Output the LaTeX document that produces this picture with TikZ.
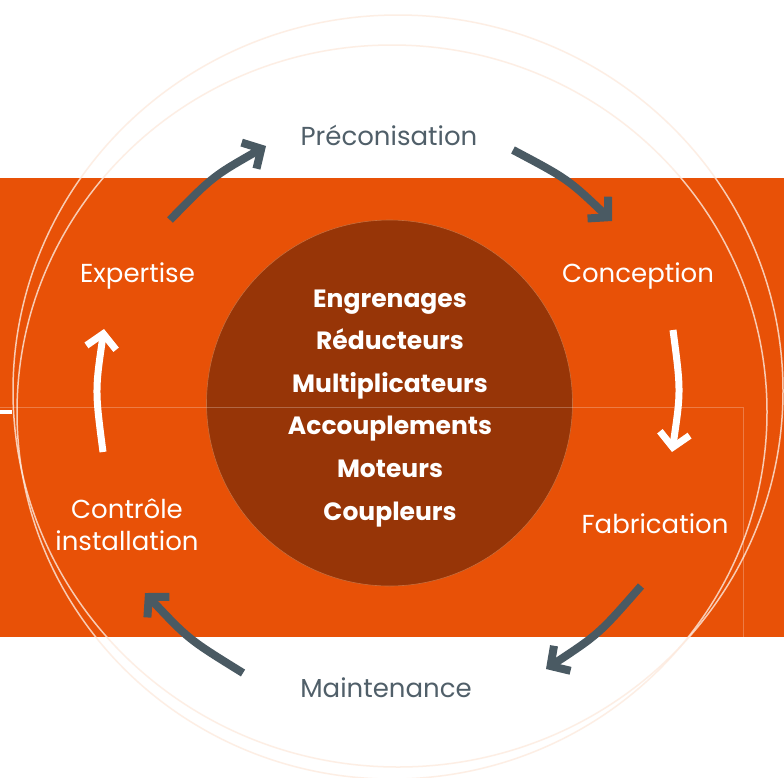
\documentclass[tikz,border=0pt]{standalone}
\usepackage{fontspec}
\setmainfont{Poppins}
\usetikzlibrary{arrows.meta}
\definecolor{bandorange}{HTML}{E85107}
\definecolor{corebrown}{HTML}{973507}
\definecolor{coreedge}{RGB}{200,110,60}
\definecolor{slate}{HTML}{4A5A63}
\definecolor{slatetext}{HTML}{505F69}
\definecolor{ringpeach}{RGB}{253,234,222}
\begin{document}
\begin{tikzpicture}[x=1pt, y=-1pt,
  phase/.style={font=\fontsize{26}{32}\selectfont, anchor=base, inner sep=0pt},
  product/.style={font=\fontsize{25}{30}\selectfont\bfseries, text=white, anchor=base, inner sep=0pt},
  slatearrow/.style={draw=slate, line width=8pt, -{Straight Barb[sharp, length=14pt, width=30pt]}},
  whitearrow/.style={draw=white, line width=7pt, -{Straight Barb[sharp, length=14pt, width=30pt]}},
  ring/.style={draw=ringpeach, opacity=0.8, line width=1.5pt}]
  \useasboundingbox (0,0) rectangle (784,777);
  \fill[white] (0,0) rectangle (784,777);
  \fill[bandorange] (0,178) rectangle (784,637);
  \draw[ring] (398,391) ellipse [x radius=385, y radius=376];
  \draw[ring] (392,412) ellipse [x radius=375, y radius=367];

  \node[circle, fill=corebrown, draw=coreedge, line width=0.6pt, minimum size=366pt, inner sep=0pt] (core) at (389.5,403) {};
  \draw[white, opacity=0.25, line width=1pt] (0,407) -- (743,407) -- (743,637);
  \draw[white, line width=4pt] (0,412) -- (12,412);

  \foreach \item [count=\i] in {Engrenages, Réducteurs, Multiplicateurs, Accouplements, Moteurs, Coupleurs}
    \node[product] (prod\i) at (390,{307+42.6*(\i-1)}) {\item};

  \node[phase, text=slatetext] (preco) at (389,145) {Préconisation};
  \node[phase, text=white] (conception) at (638,282) {Conception};
  \node[phase, text=white] (fabrication) at (655,533) {Fabrication};
  \node[phase, text=slatetext] (maintenance) at (386,697) {Maintenance};
  \node[phase, text=white, align=center] (controle) at (127,550) {Contrôle\\installation};
  \node[phase, text=white] (expertise) at (137.5,282) {Expertise};

  \coordinate (a1s) at (170,220); \coordinate (a1e) at (266,146);
  \coordinate (a2s) at (513,150); \coordinate (a2e) at (612,221);
  \coordinate (a3s) at (673,330); \coordinate (a3e) at (672,452);
  \coordinate (a4s) at (641,586); \coordinate (a4e) at (546,669);
  \coordinate (a5s) at (243,673); \coordinate (a5e) at (145,593);
  \coordinate (a6s) at (103,452); \coordinate (a6e) at (104,329);
  \draw[slatearrow] (a1s) .. controls (212.8,176.3) .. (a1e);
  \draw[slatearrow] (a2s) .. controls (567.9,179.1) .. (a2e);
  \draw[whitearrow] (a3s) .. controls (681,391) .. (a3e);
  \draw[slatearrow] (a4s) .. controls (599,634) .. (a4e);
  \draw[slatearrow] (a5s) .. controls (188.5,639.3) .. (a5e);
  \draw[whitearrow] (a6s) .. controls (95,390.5) .. (a6e);
\end{tikzpicture}
\end{document}
